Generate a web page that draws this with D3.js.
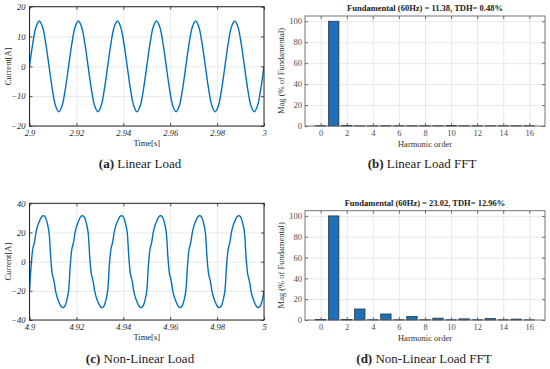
<!DOCTYPE html>
<html lang="en">
<head>
<meta charset="utf-8">
<script src="https://cdn.jsdelivr.net/npm/d3@7"></script>
<title>Load current and FFT</title>
<style>
body{
margin:0;
background:#ffffff;
}
svg{
display:block;
}
</style>
</head>
<body>
<svg width="550" height="369"></svg>
<script>
// ---- data ----
// linear load current, sampled every 1/12 of a 60 Hz period from t = 2.9 s
var linearStart = 2.9;
var linearStep = 1 / 60 / 12;
var linearCurrent = [
 0, 7.6, 13.2, 15.2, 13.2, 7.6, 0, -7.6, -13.2, -15.2, -13.2, -7.6,
 0, 7.6, 13.2, 15.2, 13.2, 7.6, 0, -7.6, -13.2, -15.2, -13.2, -7.6,
 0, 7.6, 13.2, 15.2, 13.2, 7.6, 0, -7.6, -13.2, -15.2, -13.2, -7.6,
 0, 7.6, 13.2, 15.2, 13.2, 7.6, 0, -7.6, -13.2, -15.2, -13.2, -7.6,
 0, 7.6, 13.2, 15.2, 13.2, 7.6, 0, -7.6, -13.2, -15.2, -13.2, -7.6,
 0, 7.6, 13.2, 15.2, 13.2, 7.6, 0, -7.6, -13.2, -15.2, -13.2, -7.6,
 0
];

// non-linear load current, sampled every 1/24 of a period from t = 4.9 s
var nonLinearStart = 4.9;
var nonLinearStep = 1 / 60 / 24;
var nonLinearCurrent = [
 -20, -3, 8.5, 13, 20, 24.5, 27.5, 30, 31.3, 31.4, 29.8, 26, 20, 3, -8.5, -13, -20, -24.5, -27.5, -30, -31.3, -31.4, -29.8, -26,
 -20, -3, 8.5, 13, 20, 24.5, 27.5, 30, 31.3, 31.4, 29.8, 26, 20, 3, -8.5, -13, -20, -24.5, -27.5, -30, -31.3, -31.4, -29.8, -26,
 -20, -3, 8.5, 13, 20, 24.5, 27.5, 30, 31.3, 31.4, 29.8, 26, 20, 3, -8.5, -13, -20, -24.5, -27.5, -30, -31.3, -31.4, -29.8, -26,
 -20, -3, 8.5, 13, 20, 24.5, 27.5, 30, 31.3, 31.4, 29.8, 26, 20, 3, -8.5, -13, -20, -24.5, -27.5, -30, -31.3, -31.4, -29.8, -26,
 -20, -3, 8.5, 13, 20, 24.5, 27.5, 30, 31.3, 31.4, 29.8, 26, 20, 3, -8.5, -13, -20, -24.5, -27.5, -30, -31.3, -31.4, -29.8, -26,
 -20, -3, 8.5, 13, 20, 24.5, 27.5, 30, 31.3, 31.4, 29.8, 26, 20, 3, -8.5, -13, -20, -24.5, -27.5, -30, -31.3, -31.4, -29.8, -26,
 -20
];

var linearTimeTicks = [2.9, 2.92, 2.94, 2.96, 2.98, 3];
var linearTimeLabels = ["2.9", "2.92", "2.94", "2.96", "2.98", "3"];
var linearCurrentTicks = [-20, -10, 0, 10, 20];

var nonLinearTimeTicks = [4.9, 4.92, 4.94, 4.96, 4.98, 5];
var nonLinearTimeLabels = ["4.9", "4.92", "4.94", "4.96", "4.98", "5"];
var nonLinearCurrentTicks = [-40, -20, 0, 20, 40];

// harmonic spectra, % of fundamental, orders 0..16
var harmonicOrder = [0, 1, 2, 3, 4, 5, 6, 7, 8, 9, 10, 11, 12, 13, 14, 15, 16];
var linearMag    = [0.3, 100, 0.4, 0.2, 0.2, 0.3, 0.3, 0.3, 0.3, 0.3, 0.5, 0.3, 0.3, 0.3, 0.3, 0.3, 0.3];
var nonLinearMag = [0.4, 100, 0.4, 10.6, 0.3, 5.8, 0.3, 3.5, 0.3, 1.8, 0.3, 1.1, 0.3, 1.5, 0.3, 0.9, 0.2];
var orderTicks = [0, 2, 4, 6, 8, 10, 12, 14, 16];
var magTicks = [0, 20, 40, 60, 80, 100];

var linearTitle = "Fundamental (60Hz) = 11.38, TDH= 0.48%";
var nonLinearTitle = "Fundamental (60Hz) = 23.02, TDH= 12.96%";

var captions = [
 {tag: "(a)", text: " Linear Load", x: 140, y: 168},
 {tag: "(b)", text: " Linear Load FFT", x: 422, y: 168},
 {tag: "(c)", text: " Non-Linear Load", x: 140, y: 363},
 {tag: "(d)", text: " Non-Linear Load FFT", x: 424, y: 363}
];

// ---- drawing ----
var svg = d3.select("svg");
var serif = "Liberation Serif, DejaVu Serif, serif";
var lineBlue = "#0072bd";
var gridColor = "#e3e3e3";

function styleAxis(g, color){
  g.select(".domain").remove();
  g.selectAll("line").attr("stroke", color).attr("stroke-width", 0.8);
  g.selectAll("text").attr("font-family", serif).attr("font-size", 8.5).attr("fill", color);
}

function drawWave(box, start, step, values, timeTicks, timeLabels, curTicks, lim){
  var x = d3.scaleLinear().domain([start, start + 0.1]).range([box.left, box.right]);
  var y = d3.scaleLinear().domain([-lim, lim]).range([box.bottom, box.top]);
  var g = svg.append("g");

  // grid
  g.append("g").attr("transform", "translate(0," + box.bottom + ")")
   .call(d3.axisBottom(x).tickValues(timeTicks).tickFormat("").tickSize(-(box.bottom - box.top)).tickSizeOuter(0))
   .call(function(a){ a.select(".domain").remove(); a.selectAll("line").attr("stroke", gridColor).attr("stroke-width", 0.8); });
  g.append("g").attr("transform", "translate(" + box.left + ",0)")
   .call(d3.axisLeft(y).tickValues(curTicks).tickFormat("").tickSize(-(box.right - box.left)).tickSizeOuter(0))
   .call(function(a){ a.select(".domain").remove(); a.selectAll("line").attr("stroke", gridColor).attr("stroke-width", 0.8); });

  // curve
  var clipId = "clip" + Math.round(box.top);
  svg.append("clipPath").attr("id", clipId).append("rect")
   .attr("x", box.left).attr("y", box.top).attr("width", box.right - box.left).attr("height", box.bottom - box.top);
  var line = d3.line()
   .x(function(d, i){ return x(start + i * step); })
   .y(function(d){ return y(d); })
   .curve(d3.curveCatmullRom.alpha(0.5));
  g.append("path").datum(values)
   .attr("clip-path", "url(#" + clipId + ")")
   .attr("fill", "none").attr("stroke", lineBlue).attr("stroke-width", 1.4)
   .attr("d", line);

  // axes, ticks inward
  g.append("g").attr("transform", "translate(0," + box.bottom + ")")
   .call(d3.axisBottom(x).tickValues(timeTicks).tickFormat(function(d, i){ return timeLabels[i]; }).tickSize(-3).tickSizeOuter(0).tickPadding(4))
   .call(styleAxis, "#262626")
   .selectAll("text").attr("font-style", "italic");
  g.append("g").attr("transform", "translate(0," + box.top + ")")
   .call(d3.axisTop(x).tickValues(timeTicks).tickFormat("").tickSize(-3).tickSizeOuter(0))
   .call(styleAxis, "#262626");
  g.append("g").attr("transform", "translate(" + box.left + ",0)")
   .call(d3.axisLeft(y).tickValues(curTicks).tickSize(-3).tickSizeOuter(0).tickPadding(4))
   .call(styleAxis, "#262626")
   .selectAll("text").attr("font-style", "italic");
  g.append("g").attr("transform", "translate(" + box.right + ",0)")
   .call(d3.axisRight(y).tickValues(curTicks).tickFormat("").tickSize(-3).tickSizeOuter(0))
   .call(styleAxis, "#262626");

  g.append("rect")
   .attr("x", box.left).attr("y", box.top)
   .attr("width", box.right - box.left).attr("height", box.bottom - box.top)
   .attr("fill", "none").attr("stroke", "#262626").attr("stroke-width", 1);

  g.append("text")
   .attr("x", (box.left + box.right) / 2).attr("y", box.bottom + 20)
   .attr("text-anchor", "middle").attr("font-family", serif).attr("font-size", 8.5).attr("fill", "#262626")
   .text("Time[s]");
  g.append("text")
   .attr("transform", "translate(" + (box.left - 19) + "," + ((box.top + box.bottom) / 2) + ") rotate(-90)")
   .attr("text-anchor", "middle").attr("font-family", serif).attr("font-size", 8.5).attr("fill", "#262626")
   .text("Current[A]");
}

function drawFFT(box, mags, title){
  var x = d3.scaleLinear().domain([-1.2, 17.2]).range([box.left, box.right]);
  var y = d3.scaleLinear().domain([0, 105]).range([box.bottom, box.top]);
  var g = svg.append("g");

  g.append("g").attr("transform", "translate(0," + box.bottom + ")")
   .call(d3.axisBottom(x).tickValues(orderTicks).tickFormat("").tickSize(-(box.bottom - box.top)).tickSizeOuter(0))
   .call(function(a){ a.select(".domain").remove(); a.selectAll("line").attr("stroke", gridColor).attr("stroke-width", 0.8); });
  g.append("g").attr("transform", "translate(" + box.left + ",0)")
   .call(d3.axisLeft(y).tickValues(magTicks).tickFormat("").tickSize(-(box.right - box.left)).tickSizeOuter(0))
   .call(function(a){ a.select(".domain").remove(); a.selectAll("line").attr("stroke", gridColor).attr("stroke-width", 0.8); });

  var bw = x(0.4) - x(-0.4);
  g.selectAll("rect.bar").data(mags).enter().append("rect")
   .attr("class", "bar")
   .attr("x", function(d, i){ return x(harmonicOrder[i]) - bw / 2; })
   .attr("y", function(d){ return y(d); })
   .attr("width", bw)
   .attr("height", function(d){ return y(0) - y(d); })
   .attr("fill", "#1f6fb4").attr("stroke", "#1b2f45").attr("stroke-width", 0.7);

  g.append("g").attr("transform", "translate(0," + box.bottom + ")")
   .call(d3.axisBottom(x).tickValues(orderTicks).tickSize(-3).tickSizeOuter(0).tickPadding(4))
   .call(styleAxis, "#4d4d4d");
  g.append("g").attr("transform", "translate(0," + box.top + ")")
   .call(d3.axisTop(x).tickValues(orderTicks).tickFormat("").tickSize(-3).tickSizeOuter(0))
   .call(styleAxis, "#4d4d4d");
  g.append("g").attr("transform", "translate(" + box.left + ",0)")
   .call(d3.axisLeft(y).tickValues(magTicks).tickSize(-3).tickSizeOuter(0).tickPadding(3))
   .call(styleAxis, "#4d4d4d");
  g.append("g").attr("transform", "translate(" + box.right + ",0)")
   .call(d3.axisRight(y).tickValues(magTicks).tickFormat("").tickSize(-3).tickSizeOuter(0))
   .call(styleAxis, "#4d4d4d");

  g.append("rect")
   .attr("x", box.left).attr("y", box.top)
   .attr("width", box.right - box.left).attr("height", box.bottom - box.top)
   .attr("fill", "none").attr("stroke", "#666666").attr("stroke-width", 0.9);

  g.append("text")
   .attr("x", (box.left + box.right) / 2).attr("y", box.top - 5)
   .attr("text-anchor", "middle").attr("font-family", serif).attr("font-size", 8.5)
   .attr("font-weight", "bold").attr("fill", "#1a1a1a")
   .text(title);
  g.append("text")
   .attr("x", (box.left + box.right) / 2).attr("y", box.bottom + 21)
   .attr("text-anchor", "middle").attr("font-family", serif).attr("font-size", 8.5).attr("fill", "#333333")
   .text("Harmonic order");
  g.append("text")
   .attr("transform", "translate(" + (box.left - 21) + "," + ((box.top + box.bottom) / 2) + ") rotate(-90)")
   .attr("text-anchor", "middle").attr("font-family", serif).attr("font-size", 8.5).attr("fill", "#333333")
   .text("Mag (% of Fundamental)");
}

drawWave({left: 29.5, right: 264, top: 6.7, bottom: 126}, linearStart, linearStep, linearCurrent,
         linearTimeTicks, linearTimeLabels, linearCurrentTicks, 20);
drawWave({left: 29.5, right: 264, top: 203.3, bottom: 320}, nonLinearStart, nonLinearStep, nonLinearCurrent,
         nonLinearTimeTicks, nonLinearTimeLabels, nonLinearCurrentTicks, 40);
drawFFT({left: 305, right: 545, top: 16, bottom: 126}, linearMag, linearTitle);
drawFFT({left: 305, right: 545, top: 210.7, bottom: 320}, nonLinearMag, nonLinearTitle);

// captions
captions.forEach(function(c){
  var t = svg.append("text")
   .attr("x", c.x).attr("y", c.y)
   .attr("text-anchor", "middle").attr("font-family", serif).attr("font-size", 13).attr("fill", "#222222");
  t.append("tspan").attr("font-weight", "bold").text(c.tag);
  t.append("tspan").text(c.text);
});
</script>
</body>
</html>
